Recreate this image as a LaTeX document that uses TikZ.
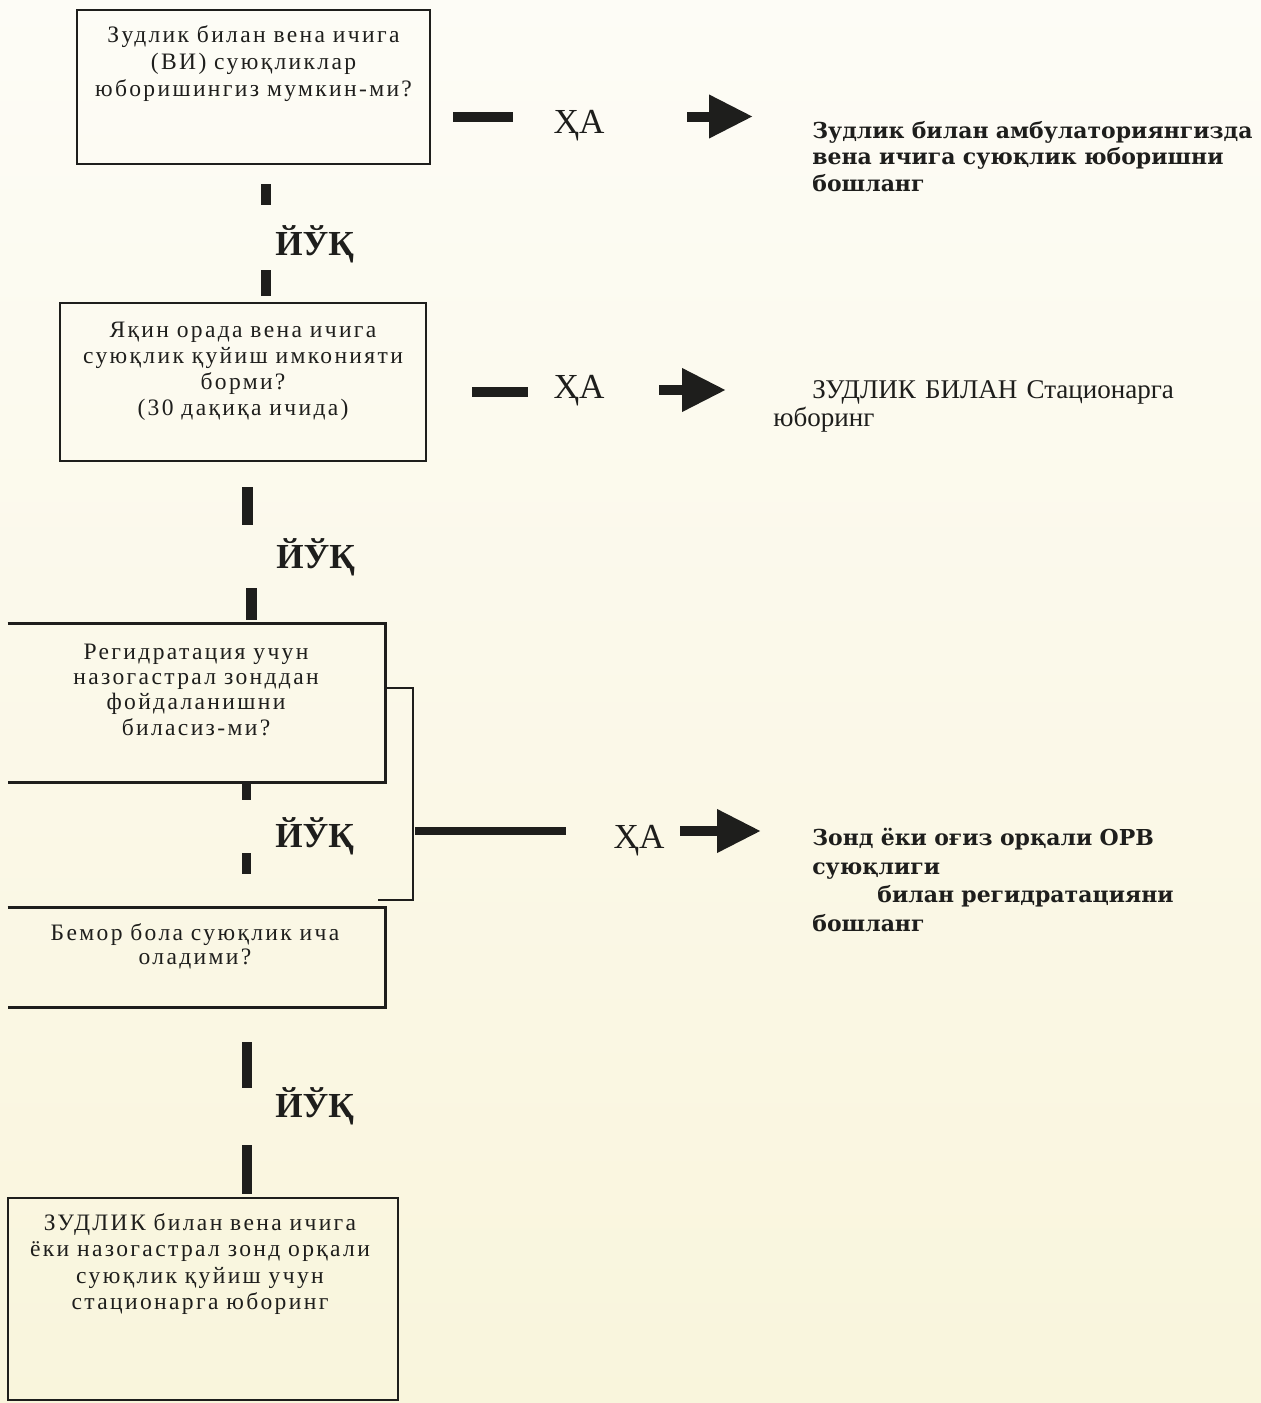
\documentclass[tikz,border=0pt]{standalone}
\usepackage{fontspec}
\setmainfont{Liberation Serif}
\newfontfamily\boxfont[LetterSpace=10]{Liberation Serif}
\newfontfamily\resfont{DejaVu Serif}
\usetikzlibrary{arrows.meta}
\newdimen\px \px=0.02cm
\definecolor{ink}{RGB}{30,30,28}
\definecolor{papertop}{RGB}{253,252,246}
\definecolor{paperbot}{RGB}{249,245,220}
\tikzset{
  boxline/.style={draw=ink, line width=2.5\px},
  boxshape/.style={inner sep=0pt},
  boxtext/.style={text=ink, align=center, inner sep=0pt, anchor=base},
  yesst/.style={text=ink, inner sep=0pt, anchor=base, font=\fontsize{20}{24}\selectfont},
  nost/.style={text=ink, inner sep=0pt, anchor=base west, font=\fontsize{20}{24}\selectfont\bfseries},
  bar/.style={draw=ink, line width=10\px, line cap=butt},
  arrowst/.style={draw=ink, line width=10\px, line cap=butt, -{Triangle[length=0.88cm, width=0.82cm]}},
  bracketst/.style={draw=ink, line width=2.2\px},
  result/.style={text=ink, align=left, inner sep=0pt, anchor=base west},
}
\begin{document}
\begin{tikzpicture}[x=0.02cm,y=-0.02cm]
\shade[top color=papertop,bottom color=paperbot] (0,0) rectangle (1261,1403);
\useasboundingbox (0,0) rectangle (1261,1403);

% ---------- boxes ----------
\node[boxshape, boxline, minimum width=353\px, minimum height=154\px] (box1) at (253.5,87) {};
\node[boxshape, boxline, minimum width=366\px, minimum height=158\px] (box2) at (243,382) {};
\node[boxshape, minimum width=377\px, minimum height=158\px] (box3) at (196.5,703) {};
\draw[boxline] (box3.north west) -- (box3.north east) -- (box3.south east) -- (box3.south west);
\node[boxshape, minimum width=377\px, minimum height=99\px] (box4) at (196.5,957.5) {};
\draw[boxline] (box4.north west) -- (box4.north east) -- (box4.south east) -- (box4.south west);
\node[boxshape, boxline, minimum width=390\px, minimum height=202\px] (box5) at (203,1299) {};

% ---------- box texts ----------
\node[boxtext, text width=352\px, font=\boxfont\fontsize{13.4}{15.65}\selectfont] (t1) at (253.5,42)
  {Зудлик билан вена ичига\\(ВИ) суюқликлар\\юборишингиз мумкин-ми?};
\node[boxtext, text width=364\px, font=\boxfont\fontsize{13.4}{14.8}\selectfont] (t2) at (243,337)
  {Яқин орада вена ичига\\суюқлик қуйиш имконияти\\борми?\\(30 дақиқа ичида)};
\node[boxtext, text width=375\px, font=\boxfont\fontsize{13.4}{14.5}\selectfont] (t3) at (196,659)
  {Регидратация учун\\назогастрал зонддан\\фойдаланишни\\биласиз-ми?};
\node[boxtext, text width=375\px, font=\boxfont\fontsize{13.4}{14.2}\selectfont] (t4) at (195,940)
  {Бемор бола суюқлик ича\\оладими?};
\node[boxtext, text width=388\px, font=\boxfont\fontsize{13.4}{15.1}\selectfont] (t5) at (200,1230)
  {ЗУДЛИК билан вена ичига\\ёки назогастрал зонд орқали\\суюқлик қуйиш учун\\стационарга юборинг};

% ---------- labels ----------
\node[yesst] (ha1) at (579,133) {ҲА};
\node[yesst] (ha2) at (579,398) {ҲА};
\node[yesst] (ha3) at (639,848) {ҲА};
\node[nost] (yuk1) at (275,255) {ЙЎҚ};
\node[nost] (yuk2) at (276,568) {ЙЎҚ};
\node[nost] (yuk3) at (275,847) {ЙЎҚ};
\node[nost] (yuk4) at (275,1117) {ЙЎҚ};

% ---------- results ----------
\node[result, text width=450\px, font=\resfont\bfseries\fontsize{12.5}{15.1}\selectfont] (r1) at (812,138)
  {Зудлик билан амбулаториянгизда\\вена ичига суюқлик юборишни\\бошланг};
\node[result, text width=460\px, font=\fontsize{15.4}{16.5}\selectfont] (r2) at (773,398)
  {\hspace*{39\px}ЗУДЛИК БИЛАН Стационарга\\юборинг};
\node[result, text width=440\px, font=\resfont\bfseries\fontsize{12.5}{16.5}\selectfont] (r3) at (812,845)
  {Зонд ёки оғиз орқали ОРВ\\суюқлиги\\\hspace*{65\px}билан регидратацияни\\бошланг};

% ---------- connector ends ----------
\coordinate (v1a) at (266,184); \coordinate (v1b) at (266,205);
\coordinate (v2a) at (266,270); \coordinate (v2b) at (266,296);
\coordinate (v3a) at (247,487); \coordinate (v3b) at (247,525);
\coordinate (v4a) at (251,588); \coordinate (v4b) at (251,620);
\coordinate (v5a) at (246,782); \coordinate (v5b) at (246,800);
\coordinate (v6a) at (246,853); \coordinate (v6b) at (246,874);
\coordinate (v7a) at (247,1042); \coordinate (v7b) at (247,1088);
\coordinate (v8a) at (247,1145); \coordinate (v8b) at (247,1194);
\coordinate (h1a) at (453,116.5); \coordinate (h1b) at (513,116.5);
\coordinate (h2a) at (472,392); \coordinate (h2b) at (528,392);
\coordinate (h3a) at (415,831); \coordinate (h3b) at (566,831);
\coordinate (a1a) at (687,116.5); \coordinate (a1b) at (753,116.5);
\coordinate (a2a) at (659,390); \coordinate (a2b) at (726,390);
\coordinate (a3a) at (680,831); \coordinate (a3b) at (761,831);
\coordinate (br1) at (413,688); \coordinate (br2) at (413,900); \coordinate (br3) at (378,900);

% ---------- connectors ----------
\draw[bar] (v1a) -- (v1b);
\draw[bar] (v2a) -- (v2b);
\draw[bar, line width=11\px] (v3a) -- (v3b);
\draw[bar, line width=11\px] (v4a) -- (v4b);
\draw[bar, line width=9\px] (v5a) -- (v5b);
\draw[bar, line width=9\px] (v6a) -- (v6b);
\draw[bar] (v7a) -- (v7b);
\draw[bar] (v8a) -- (v8b);
\draw[bar] (h1a) -- (h1b);
\draw[bar] (h2a) -- (h2b);
\draw[bar, line width=8\px] (h3a) -- (h3b);
\draw[arrowst] (a1a) -- (a1b);
\draw[arrowst] (a2a) -- (a2b);
\draw[arrowst] (a3a) -- (a3b);
\draw[bracketst] (box3.east |- br1) -- (br1) -- (br2) -- (br3);
\end{tikzpicture}
\end{document}
